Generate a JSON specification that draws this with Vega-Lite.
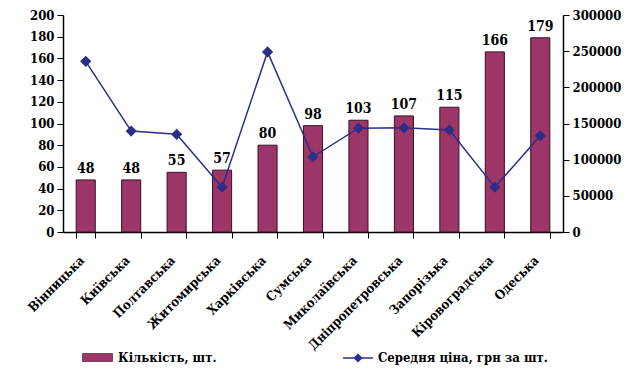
{
  "$schema": "https://vega.github.io/schema/vega-lite/v6.json",
  "width": 500,
  "height": 217,
  "autosize": {"type": "none"},
  "padding": {"left": 63, "top": 15, "right": 69, "bottom": 159},
  "background": "white",
  "config": {
    "view": {"stroke": null},
    "font": "DejaVu Serif Condensed",
    "axis": {"labelFont": "DejaVu Serif Condensed", "labelFontWeight": "bold", "labelFontSize": 13, "labelColor": "black", "domainColor": "black", "tickColor": "black", "grid": false},
    "legend": {"labelFont": "DejaVu Serif Condensed", "labelFontWeight": "bold", "labelFontSize": 13, "labelColor": "black", "labelLimit": 400},
    "text": {"font": "DejaVu Serif Condensed"}
  },
  "data": {"values": [
    {"region": "Вінницька", "count": 48, "price": 236000},
    {"region": "Київська", "count": 48, "price": 139500},
    {"region": "Полтавська", "count": 55, "price": 135000},
    {"region": "Житомирська", "count": 57, "price": 62000},
    {"region": "Харківська", "count": 80, "price": 249000},
    {"region": "Сумська", "count": 98, "price": 104000},
    {"region": "Миколаївська", "count": 103, "price": 143500},
    {"region": "Дніпропетровська", "count": 107, "price": 144000},
    {"region": "Запорізька", "count": 115, "price": 141000},
    {"region": "Кіровоградська", "count": 166, "price": 62000},
    {"region": "Одеська", "count": 179, "price": 133000}
  ]},
  "encoding": {
    "x": {"field": "region", "type": "nominal", "sort": null,
      "scale": {"paddingInner": 0.58, "paddingOuter": 0.29},
      "axis": {"title": null, "labelAngle": -45, "labelAlign": "right", "labelBaseline": "middle", "tickBand": "extent", "tickSize": 6, "labelPadding": 20, "labelOffset": -4, "domainWidth": 1.5}}
  },
  "layer": [
    {
      "mark": {"type": "bar", "stroke": "#3a1020", "strokeWidth": 1},
      "encoding": {
        "y": {"field": "count", "type": "quantitative", "scale": {"domain": [0, 200]},
          "axis": {"title": null, "orient": "left", "values": [0,20,40,60,80,100,120,140,160,180,200], "tickSize": 6, "labelPadding": 3, "domainWidth": 1.5}},
        "fill": {"datum": "Кількість, шт.", "type": "nominal",
          "scale": {"range": ["#9C3568"]},
          "legend": {"title": null, "orient": "none", "legendX": 24, "legendY": 332, "symbolType": "M-1.5,-0.4H1.5V0.4H-1.5Z", "symbolSize": 400, "symbolStrokeColor": "#3a1020", "symbolStrokeWidth": 0.6, "labelOffset": 10}}
      }
    },
    {
      "mark": {"type": "text", "dy": -11, "fontWeight": "bold", "fontSize": 14, "font": "DejaVu Serif Condensed", "color": "black"},
      "encoding": {
        "y": {"field": "count", "type": "quantitative", "scale": {"domain": [0, 200]}, "axis": null},
        "text": {"field": "count", "type": "quantitative"}
      }
    },
    {
      "mark": {"type": "line", "color": "#2B2F86", "strokeWidth": 1.5, "point": {"shape": "diamond", "size": 70, "filled": true, "color": "#2B2F86"}},
      "encoding": {
        "y": {"field": "price", "type": "quantitative", "scale": {"domain": [0, 300000]},
          "axis": {"title": null, "orient": "right", "values": [0,50000,100000,150000,200000,250000,300000], "format": "d", "tickSize": 6, "labelPadding": 3, "domainWidth": 1.5}},
        "stroke": {"datum": "Середня ціна, грн за шт.", "type": "nominal",
          "scale": {"range": ["#2B2F86"]},
          "legend": {"title": null, "orient": "none", "legendX": 284, "legendY": 332, "symbolType": "M-1.5,0H1.5M0,-0.35L0.35,0L0,0.35L-0.35,0Z", "symbolSize": 400, "symbolFillColor": "#2B2F86", "symbolStrokeWidth": 1.5, "labelOffset": 9}}
      }
    }
  ],
  "resolve": {"scale": {"y": "independent", "fill": "independent", "stroke": "independent"}}
}
